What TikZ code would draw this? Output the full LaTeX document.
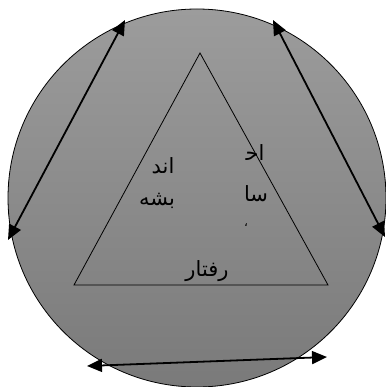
\documentclass[tikz,border=0pt]{standalone}
\usepackage{fontspec}
\usetikzlibrary{arrows.meta}
\TeXXeTstate=1
\newfontfamily\arabicfont[Script=Arabic]{DejaVu Sans}
\definecolor{gtop}{RGB}{156,156,156}
\definecolor{gbot}{RGB}{122,122,122}
\begin{document}
\begin{tikzpicture}[x=1pt,y=-1pt,
  ring/.style={circle,draw=black,line width=0.8pt,minimum size=378pt,inner sep=0pt,top color=gtop,bottom color=gbot},
  tri/.style={draw=black,line width=0.8pt},
  dblarrow/.style={line width=1.8pt,{Triangle[length=15pt,width=13pt]}-{Triangle[length=15pt,width=13pt]}},
  lbl/.style={font=\arabicfont\fontsize{21}{24}\selectfont,inner sep=0pt}]
\useasboundingbox (0,0) rectangle (385,387);
\node[ring] (c) at (197,198) {};
\coordinate (ta) at (200,53);
\coordinate (tl) at (74,285);
\coordinate (tr) at (328,285);
\draw[tri] (ta) -- (tl) -- (tr) -- cycle;
\coordinate (a1) at (8,240);
\coordinate (a2) at (125,20);
\coordinate (b1) at (273,20);
\coordinate (b2) at (385,237);
\coordinate (d1) at (87,366);
\coordinate (d2) at (327,357);
\draw[dblarrow] (a1) -- (a2);
\draw[dblarrow] (b1) -- (b2);
\draw[dblarrow] (d1) -- (d2);
\node[lbl] (t1) at (163,166) {\beginR اند\endR};
\node[lbl] (t2) at (157,201) {\beginR بشه\endR};
\node[lbl] (t3) at (255,153) {\beginR اح^^^^200d\endR};
\node[lbl] (t4) at (256,194) {\beginR سا\endR};
\node[font=\arabicfont\fontsize{12}{14}\selectfont,inner sep=0pt] (t5) at (246,225) {\beginR ،\endR};
\node[lbl] (t6) at (207,271) {\beginR رفتار\endR};
\end{tikzpicture}
\end{document}
